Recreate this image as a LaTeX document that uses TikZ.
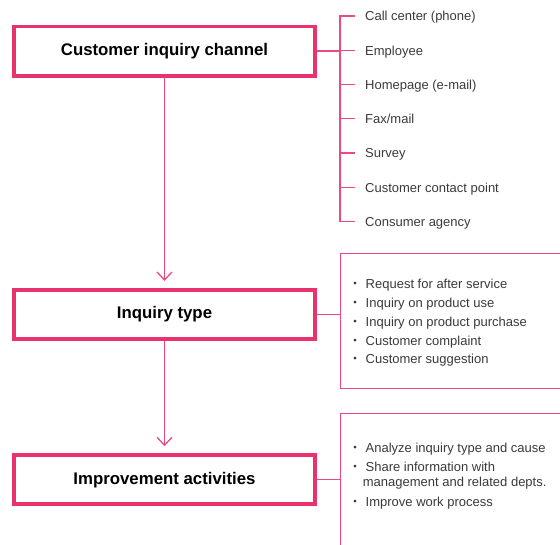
\documentclass[tikz,border=0pt]{standalone}
\usepackage{fontspec}
\setmainfont{Liberation Sans}
\newfontfamily\cjk{Noto Sans CJK JP}
\usetikzlibrary{arrows.meta, positioning, calc, backgrounds}
\definecolor{inqpink}{HTML}{E8336D}
\definecolor{inqline}{HTML}{EA4A7F}
\definecolor{inqtext}{HTML}{3A3A3A}
\newcommand{\bul}{\makebox[17pt][l]{{\cjk ・}}}

\begin{document}
\begin{tikzpicture}[
  x=1pt, y=-1pt,
  every node/.style={font=\fontsize{13}{15}\selectfont},
  stagebox/.style={rectangle, draw=inqpink, line width=3.8pt, fill=white, minimum width=301.2pt, minimum height=49.2pt, font=\fontsize{16.8}{19}\selectfont\bfseries},
  itemlabel/.style={anchor=west, inner sep=0pt, text height=9.4pt, text depth=0pt, text=inqtext},
  listframe/.style={rectangle, draw=inqline, line width=1.3pt, fill=white, anchor=north west, minimum width=240pt},
  link/.style={draw=inqline, line width=1.3pt},
  flow/.style={link, -{Straight Barb[length=8pt, width=15pt]}, shorten >=7pt},
]
\useasboundingbox (0,0) rectangle (560,544);

% Stage boxes (top to bottom)
\node[stagebox] (chan) at (164.5, 51) {Customer inquiry channel};
\node[stagebox] (type) at (164.5, 314.4) {Inquiry type};
\node[stagebox] (impr) at (164.5, 479.7) {Improvement activities};

% Channels
\node[itemlabel] (c1) at (365, 16) {Call center (phone)};
\node[itemlabel] (c2) at (365, 50.3) {Employee};
\node[itemlabel] (c3) at (365, 84.6) {Homepage (e-mail)};
\node[itemlabel] (c4) at (365, 118.8) {Fax/mail};
\node[itemlabel] (c5) at (365, 153.1) {Survey};
\node[itemlabel] (c6) at (365, 187.4) {Customer contact point};
\node[itemlabel] (c7) at (365, 221.7) {Consumer agency};
\coordinate (spine) at (340, 0);

% Inquiry types, open frame running off the right edge
\node[listframe, minimum height=135pt] (typelist) at (340, 252.7) {};
\node[itemlabel] (t1) at (348.5, 284) {\bul Request for after service};
\node[itemlabel] (t2) at (348.5, 302.8) {\bul Inquiry on product use};
\node[itemlabel] (t3) at (348.5, 321.5) {\bul Inquiry on product purchase};
\node[itemlabel] (t4) at (348.5, 340.3) {\bul Customer complaint};
\node[itemlabel] (t5) at (348.5, 359) {\bul Customer suggestion};

% Improvement activities, frame running off the bottom
\node[listframe, minimum height=200pt] (imprlist) at (340, 412.7) {};
\node[itemlabel] (a1) at (348.5, 447.7) {\bul Analyze inquiry type and cause};
\node[itemlabel] (a2) at (348.5, 466.7) {\bul Share information with};
\node[itemlabel] (a2b) at (362.7, 481.7) {management and related depts.};
\node[itemlabel] (a3) at (348.5, 501.7) {\bul Improve work process};

% Connectors behind the boxes
\begin{scope}[on background layer]
\draw[link] ([xshift=-10pt]c1.west) -| (spine |- c7.west) -- ([xshift=-10pt]c7.west);
\foreach \i in {2,...,6} \draw[link] (spine |- c\i.west) -- ([xshift=-10pt]c\i.west);
\draw[link] (chan.east) -- (chan.east -| spine);
\draw[link] (type.east) -- (type.east -| typelist.west);
\draw[link] (impr.east) -- (impr.east -| imprlist.west);
\draw[flow] (chan.south) -- (type.north);
\draw[flow] (type.south) -- (impr.north);
\end{scope}

\end{tikzpicture}
\end{document}
